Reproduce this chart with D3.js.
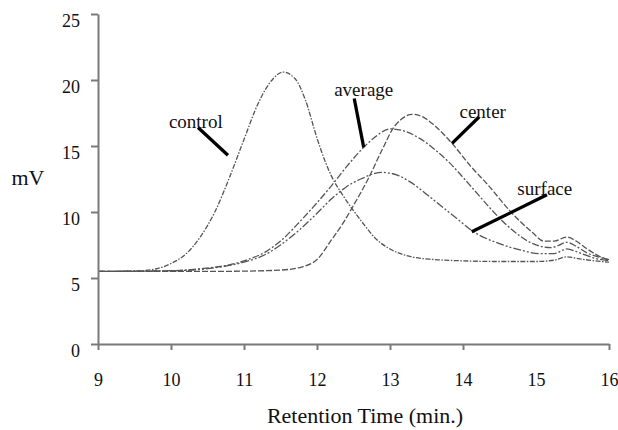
<!DOCTYPE html>
<html>
<head>
<meta charset="utf-8">
<script src="https://cdn.jsdelivr.net/npm/d3@7"></script>
<style>
  body { margin: 0; background: #fff; }
  text { font-family: "Liberation Serif", "Times New Roman", serif; fill: #111; }
</style>
</head>
<body>
<svg id="chart" width="618" height="430"></svg>
<script>
// Retention time (min.) and signal (mV)
var controlT = [9, 9.5, 9.8, 10.0, 10.2, 10.4, 10.6, 10.8, 11.0, 11.2, 11.4, 11.53, 11.7, 11.84, 12.0, 12.1, 12.2, 12.35, 12.5, 12.65, 12.8, 13.0, 13.3, 13.6, 14.0, 14.5, 15.0, 15.25, 15.42, 15.6, 15.8, 16.0]
var controlV = [5.5, 5.52, 5.7, 6.1, 6.8, 8.1, 10.0, 12.6, 15.5, 18.3, 20.1, 20.6, 20.1, 18.5, 15.6, 14.0, 12.7, 11.3, 10.1, 9.0, 8.0, 7.2, 6.6, 6.4, 6.3, 6.25, 6.25, 6.35, 6.6, 6.45, 6.3, 6.2]

var averageT = [9, 10.0, 10.4, 10.8, 11.0, 11.3, 11.5, 11.77, 12.0, 12.2, 12.4, 12.64, 12.8, 13.0, 13.15, 13.4, 13.6, 13.82, 14.1, 14.37, 14.6, 14.96, 15.2, 15.3, 15.42, 15.55, 15.7, 15.85, 16.0]
var averageV = [5.5, 5.55, 5.7, 6.0, 6.3, 7.0, 7.8, 9.3, 10.7, 12.0, 13.4, 14.9, 15.7, 16.3, 16.2, 15.6, 14.8, 13.7, 12.0, 10.3, 9.0, 7.6, 7.3, 7.45, 7.7, 7.4, 6.9, 6.6, 6.4]

var centerT = [9, 10.5, 11.0, 11.5, 11.8, 12.0, 12.2, 12.35, 12.5, 12.7, 12.9, 13.05, 13.15, 13.3, 13.45, 13.6, 13.85, 14.1, 14.35, 14.64, 14.96, 15.1, 15.25, 15.42, 15.55, 15.7, 15.85, 16.0]
var centerV = [5.5, 5.5, 5.52, 5.6, 5.85, 6.4, 7.9, 9.1, 10.5, 12.5, 14.8, 16.4, 17.0, 17.4, 17.2, 16.6, 15.2, 13.5, 12.0, 10.1, 8.4, 7.8, 7.8, 8.1, 7.8, 7.2, 6.7, 6.35]

var surfaceT = [9, 10.0, 10.4, 10.8, 11.0, 11.3, 11.5, 11.77, 12.0, 12.2, 12.4, 12.6, 12.89, 13.1, 13.27, 13.6, 13.96, 14.12, 14.5, 14.8, 15.05, 15.25, 15.42, 15.6, 15.8, 16.0]
var surfaceV = [5.5, 5.55, 5.65, 5.95, 6.2, 6.8, 7.5, 8.7, 9.9, 11.0, 11.9, 12.5, 13.0, 12.8, 12.3, 10.9, 9.3, 8.6, 7.6, 7.1, 6.85, 6.85, 7.2, 6.9, 6.5, 6.3]

var xTicks = [9, 10, 11, 12, 13, 14, 15, 16]
var yTicks = [0, 5, 10, 15, 20, 25]

// label text, text position, pointer start, pointer end (all in data units)
var labelNames = ["control", "average", "center", "surface"]
var labelPos = [[10.34, 16.9], [12.64, 19.3], [14.27, 17.6], [15.12, 11.8]]
var pointerFrom = [[10.37, 16.4], [12.51, 18.6], [14.22, 17.2], [15.15, 11.3]]
var pointerTo = [[10.78, 14.3], [12.64, 14.9], [13.85, 15.2], [14.12, 8.5]]

var series = [
    { name: "control", t: controlT, v: controlV, dash: "5,1.5,1.5,1.5" },
    { name: "average", t: averageT, v: averageV, dash: "7,2,2,2" },
    { name: "center", t: centerT, v: centerV, dash: "6,2" },
    { name: "surface", t: surfaceT, v: surfaceV, dash: "8,2,2,2,2,2" }
]

var svg = d3.select("#chart")

var x = d3.scaleLinear()
    .domain([9, 16])
    .range([98, 609])

var y = d3.scaleLinear()
    .domain([0, 25])
    .range([344, 14])

var line = d3.line()
    .x(function (d) { return x(d[0]) })
    .y(function (d) { return y(d[1]) })
    .curve(d3.curveMonotoneX)

// curves
series.forEach(function (s) {
    var pts = s.t.map(function (t, i) { return [t, s.v[i]] })
    svg.append("path")
        .datum(pts)
        .attr("d", line)
        .attr("fill", "none")
        .attr("stroke", "#555")
        .attr("stroke-width", 1.3)
        .attr("stroke-dasharray", s.dash)
})

// axes
var xAxis = svg.append("g")
    .attr("transform", "translate(0," + y(0) + ")")
    .call(d3.axisBottom(x).tickValues(xTicks).tickSize(6).tickSizeOuter(0).tickFormat(d3.format("d")))

// the original has no tick mark at 15
xAxis.selectAll(".tick").filter(function (d) { return d === 15 }).select("line").remove()

var yAxis = svg.append("g")
    .attr("transform", "translate(" + x(9) + ",0)")
    .call(d3.axisLeft(y).tickValues(yTicks).tickSize(7).tickSizeOuter(0))

svg.selectAll(".domain, .tick line")
    .attr("stroke", "#7a7a7a")
    .attr("stroke-width", 2)

xAxis.selectAll("text")
    .attr("y", 29)
    .style("font-size", "18px")
    .style("font-family", "'Liberation Serif', serif")
    .style("fill", "#111")

yAxis.selectAll("text")
    .attr("x", -18)
    .attr("dy", "0.72em")
    .style("font-size", "18px")
    .style("font-family", "'Liberation Serif', serif")
    .style("fill", "#111")

// axis titles
svg.append("text")
    .attr("x", 365)
    .attr("y", 423)
    .attr("text-anchor", "middle")
    .style("font-size", "22px")
    .text("Retention Time (min.)")

svg.append("text")
    .attr("x", 28)
    .attr("y", 185)
    .attr("text-anchor", "middle")
    .style("font-size", "22px")
    .text("mV")

// curve labels with pointer lines
labelNames.forEach(function (name, i) {
    svg.append("line")
        .attr("x1", x(pointerFrom[i][0]))
        .attr("y1", y(pointerFrom[i][1]))
        .attr("x2", x(pointerTo[i][0]))
        .attr("y2", y(pointerTo[i][1]))
        .attr("stroke", "#000")
        .attr("stroke-width", 3.3)

    svg.append("text")
        .attr("x", x(labelPos[i][0]))
        .attr("y", y(labelPos[i][1]))
        .attr("dy", "0.35em")
        .attr("text-anchor", "middle")
        .style("font-size", "19px")
        .text(name)
})
</script>
</body>
</html>
